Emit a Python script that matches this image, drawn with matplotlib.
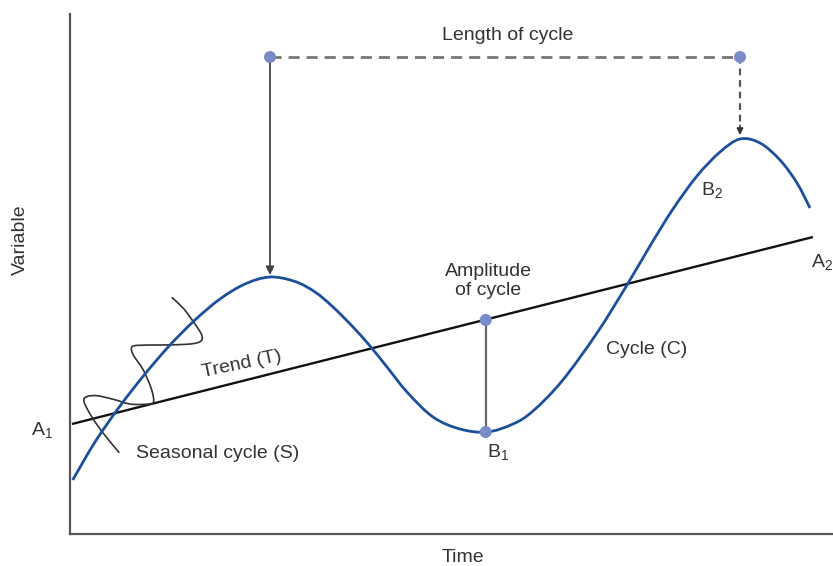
import matplotlib
matplotlib.use("Agg")
import matplotlib.pyplot as plt
from matplotlib.path import Path
from matplotlib.patches import PathPatch

plt.rcParams['font.family'] = ['Liberation Sans', 'DejaVu Sans']
plt.rcParams['mathtext.fontset'] = 'custom'
plt.rcParams['mathtext.rm'] = 'Liberation Sans'
plt.rcParams['mathtext.it'] = 'Liberation Sans'

# ---- data (time, variable) in arbitrary diagram units ----
cycle_time = [2.7, 25, 50, 75, 100, 125, 150, 175, 200, 225, 245, 263, 283, 300,
              317, 337, 363, 390, 417, 443, 463, 492, 527, 557, 580, 603, 627,
              650, 670, 690, 710, 727, 740]
cycle_value = [54, 92, 128, 160, 189, 214, 235, 250, 257, 252.5, 242, 227, 207, 188,
               167, 142, 117, 105, 102, 110, 123, 153, 201, 249, 288, 325, 358,
               382, 395, 391, 374, 351, 326]

trend_time = [2, 743]
trend_value = [110, 297]

seasonal_time = [49.3, 33.3, 21.7, 14, 16.7, 26.7, 43.3, 60, 75, 83.3, 81.7, 73.3,
                 63.3, 61.7, 68.3, 90, 116.7, 130, 131.7, 123.3, 113.3, 101.7]
seasonal_value = [81.3, 100.7, 117.3, 132.3, 137.3, 138.3, 134.7, 130, 129.7, 131.3,
                  144, 164, 179, 186.7, 188.7, 189, 189.7, 192.3, 199, 212.3, 225.7, 236.7]

peak1 = (200, 257)
peak2 = (670, 395)
length_level = 477
amp_top = (415.7, 214)
amp_bottom = (415.7, 102)


def smooth_path(xs, ys):
    """Catmull-Rom curve through the read points, drawn as cubic Bezier segments."""
    pts = list(zip(xs, ys))
    n = len(pts)
    verts = [pts[0]]
    codes = [Path.MOVETO]
    for i in range(n - 1):
        p0 = pts[i - 1] if i > 0 else pts[i]
        p1 = pts[i]
        p2 = pts[i + 1]
        p3 = pts[i + 2] if i + 2 < n else pts[i + 1]
        c1 = (p1[0] + (p2[0] - p0[0]) / 6, p1[1] + (p2[1] - p0[1]) / 6)
        c2 = (p2[0] - (p3[0] - p1[0]) / 6, p2[1] - (p3[1] - p1[1]) / 6)
        verts += [c1, c2, p2]
        codes += [Path.CURVE4] * 3
    return Path(verts, codes)


W, H = 833, 566
fig = plt.figure(figsize=(W / 100, H / 100), dpi=100)
ax = fig.add_axes([70 / W, 32 / H, 763 / W, 520 / H])
ax.set_xlim(0, 763)
ax.set_ylim(0, 520)
for s in ['top', 'right']:
    ax.spines[s].set_visible(False)
for s in ['left', 'bottom']:
    ax.spines[s].set_color('#555555')
    ax.spines[s].set_linewidth(1.6)
ax.set_xticks([])
ax.set_yticks([])

blue = '#1d4f9a'
dot = '#7a8cc8'
txt = '#333333'

# trend
ax.plot(trend_time, trend_value, color='#111111', lw=1.7, solid_capstyle='butt', zorder=3)
# cycle
ax.add_patch(PathPatch(smooth_path(cycle_time, cycle_value), facecolor='none',
                       edgecolor=blue, lw=2.0, capstyle='butt', zorder=4))
# seasonal
ax.add_patch(PathPatch(smooth_path(seasonal_time, seasonal_value), facecolor='none',
                       edgecolor='#333333', lw=1.2, zorder=3))

# length of cycle dashed line
ax.plot([peak1[0], peak2[0]], [length_level, length_level], color='#777777', lw=2.0,
        dashes=(4, 2.5), zorder=2)
# left solid arrow
ax.annotate('', xy=(peak1[0], peak1[1] + 2), xytext=(peak1[0], length_level),
            arrowprops=dict(arrowstyle='-|>', color='#444444', lw=1.3,
                            mutation_scale=12, shrinkA=0, shrinkB=0), zorder=2)
# right dashed arrow
ax.plot([peak2[0], peak2[0]], [length_level, peak2[1] + 12], color='#555555', lw=1.6,
        dashes=(3, 2.2), zorder=2)
ax.annotate('', xy=(peak2[0], peak2[1] + 4), xytext=(peak2[0], peak2[1] + 14),
            arrowprops=dict(arrowstyle='-|>', color='#333333', lw=1.0,
                            mutation_scale=10, shrinkA=0, shrinkB=0), zorder=2)
# dots on length line
ax.scatter([peak1[0], peak2[0]], [length_level, length_level], s=75, color=dot, zorder=5,
           edgecolors='none')

# amplitude
ax.plot([amp_top[0], amp_bottom[0]], [amp_top[1], amp_bottom[1]], color='#666666', lw=1.6, zorder=2)
ax.scatter([amp_top[0], amp_bottom[0]], [amp_top[1], amp_bottom[1]], s=75, color=dot, zorder=5,
           edgecolors='none')

fs = 14
ax.text(438, 498, 'Length of cycle', ha='center', va='center', fontsize=fs, color=txt)
ax.text(418, 253, 'Amplitude\nof cycle', ha='center', va='center', fontsize=fs, color=txt,
        linespacing=1.15)
ax.text(172, 170, 'Trend (T)', ha='center', va='center', fontsize=fs, color=txt, rotation=12)
ax.text(148, 81, 'Seasonal cycle (S)', ha='center', va='center', fontsize=fs, color=txt)
ax.text(577, 184, 'Cycle (C)', ha='center', va='center', fontsize=fs, color=txt)
ax.text(-28, 104, r'A$_1$', ha='center', va='center', fontsize=fs, color=txt, clip_on=False)
ax.text(752, 272, r'A$_2$', ha='center', va='center', fontsize=fs, color=txt, clip_on=False)
ax.text(428, 82, r'B$_1$', ha='center', va='center', fontsize=fs, color=txt)
ax.text(642, 344, r'B$_2$', ha='center', va='center', fontsize=fs, color=txt)
ax.text(-50, 294, 'Variable', ha='center', va='center', fontsize=fs, color=txt, rotation=90,
        clip_on=False)
ax.text(393, -24, 'Time', ha='center', va='center', fontsize=fs, color=txt, clip_on=False)

fig.savefig('out.png', dpi=100)
